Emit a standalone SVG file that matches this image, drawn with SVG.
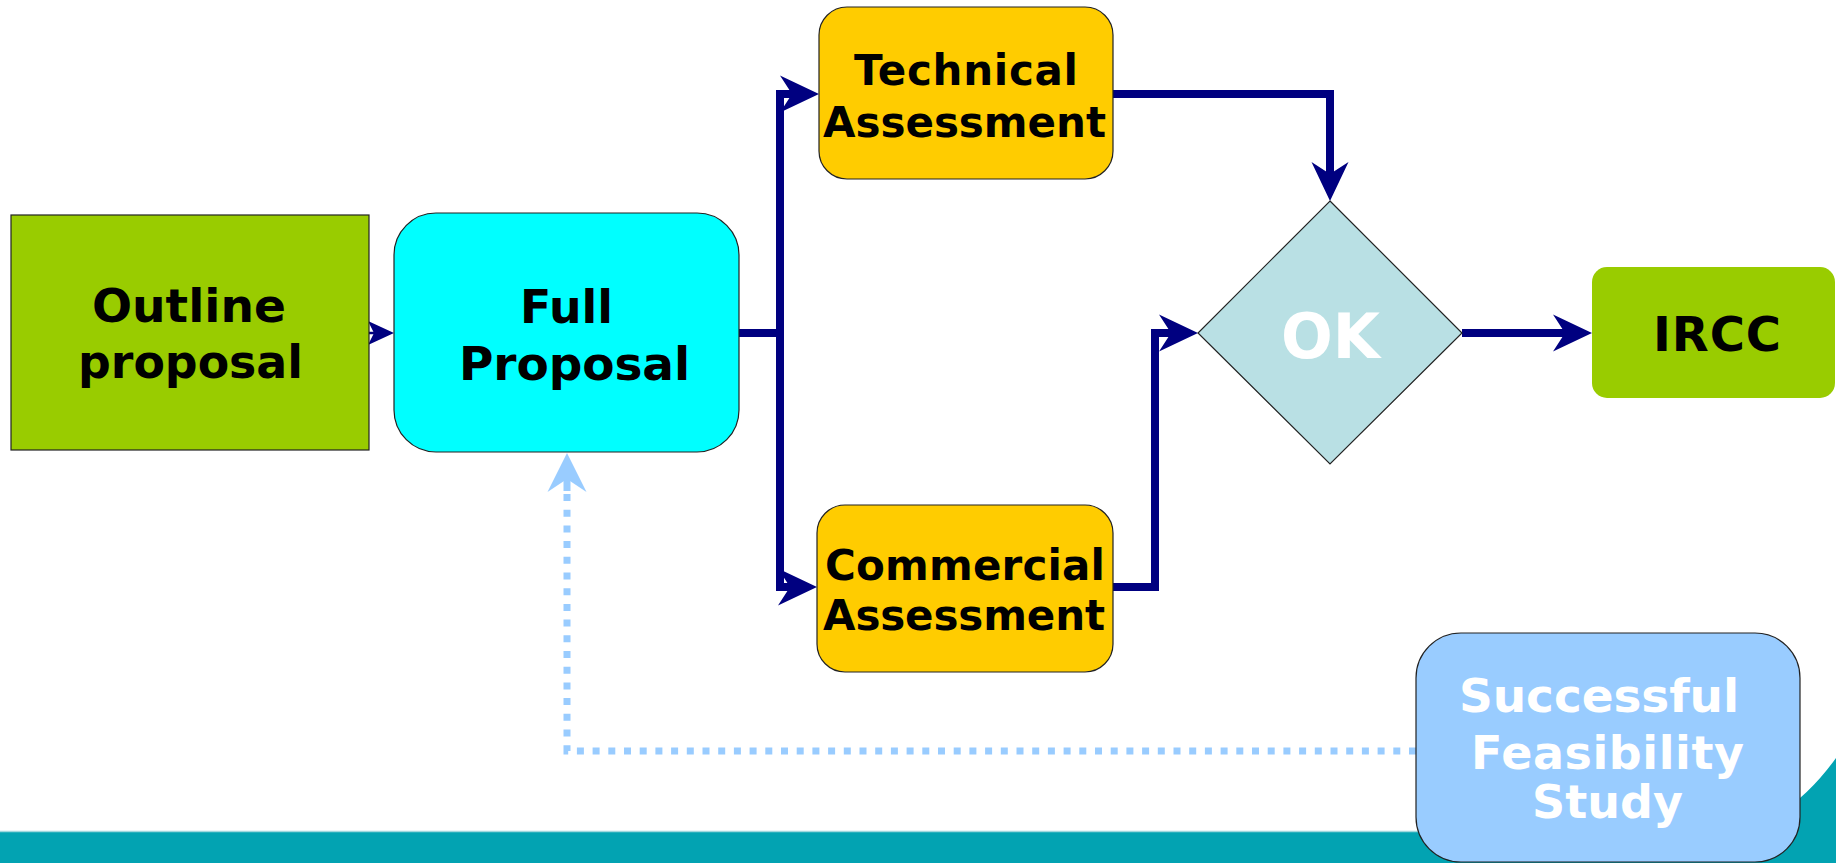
<svg xmlns="http://www.w3.org/2000/svg" width="1836" height="863" viewBox="0 0 1836 863">
<style>
.lbl{font-family:"DejaVu Sans","Liberation Sans",Verdana,sans-serif;font-weight:bold;fill:#000;}
.wht{fill:#fff;}
.conn{fill:none;stroke:#000080;stroke-width:8;stroke-linejoin:miter;stroke-linecap:butt;}
.node{stroke:#222;stroke-width:1.2;}
</style>
<defs>
<marker id="ah" markerUnits="userSpaceOnUse" markerWidth="60" markerHeight="60" viewBox="-40 -30 60 60" refX="0" refY="0" orient="auto" overflow="visible">
<path d="M12,0 L-27,-18.5 L-15,0 L-27,18.5 Z" fill="#000080"/>
</marker>
<marker id="ahs" markerUnits="userSpaceOnUse" markerWidth="40" markerHeight="40" viewBox="-30 -20 40 40" refX="0" refY="0" orient="auto" overflow="visible">
<path d="M10,0 L-16,-12 L-10,0 L-16,12 Z" fill="#000080"/>
</marker>
<marker id="ahl" markerUnits="userSpaceOnUse" markerWidth="60" markerHeight="60" viewBox="-40 -30 60 60" refX="0" refY="0" orient="auto" overflow="visible">
<path d="M12,0 L-27,-19.5 L-14,0 L-27,19.5 Z" fill="#99ccff"/>
</marker>
</defs>
<rect width="1836" height="863" fill="#fff"/>
<g id="background">
<rect x="0" y="832" width="1836" height="31" fill="#02a3b2"/>
<line x1="0" y1="831.5" x2="1836" y2="831.5" stroke="#9fd8de" stroke-width="1.5"/>
<path d="M1740,832 Q1795,815 1836,758 L1836,863 L1740,863 Z" fill="#02a3b2"/>
</g>
<g id="connectors">
<path class="conn" d="M739,333 H780 V94 H807" marker-end="url(#ah)"/>
<path class="conn" d="M739,333 H780 V587 H805" marker-end="url(#ah)"/>
<path class="conn" d="M1113,94 H1330 V189" marker-end="url(#ah)"/>
<path class="conn" d="M1113,587 H1155 V333 H1186" marker-end="url(#ah)"/>
<path class="conn" d="M1462,333 H1580" marker-end="url(#ah)"/>
<path d="M369,333 H384" fill="none" stroke="#000080" stroke-width="2.5" marker-end="url(#ahs)"/>
<path d="M1416,751 H567 V490" fill="none" stroke="#99ccff" stroke-width="7" stroke-dasharray="7 8.7"/>
<path d="M567,491 V465" fill="none" stroke="#99ccff" stroke-width="7" marker-end="url(#ahl)"/>
</g>
<g id="outline-proposal">
<rect class="node" x="11" y="215" width="358" height="235" fill="#99cc00"/>
<text class="lbl" x="92" y="322" font-size="47" textLength="194" lengthAdjust="spacingAndGlyphs">Outline</text>
<text class="lbl" x="78" y="378" font-size="47" textLength="225" lengthAdjust="spacingAndGlyphs">proposal</text>
</g>
<g id="full-proposal">
<rect class="node" x="394" y="213" width="345" height="239" rx="42" fill="#00ffff"/>
<text class="lbl" x="520" y="323" font-size="47" textLength="93" lengthAdjust="spacingAndGlyphs">Full</text>
<text class="lbl" x="459" y="380" font-size="47" textLength="231" lengthAdjust="spacing">Proposal</text>
</g>
<g id="technical-assessment">
<rect class="node" x="819" y="7" width="294" height="172" rx="28" fill="#ffcc00"/>
<text class="lbl" x="854" y="85" font-size="42" textLength="224" lengthAdjust="spacing">Technical</text>
<text class="lbl" x="823" y="137" font-size="42" textLength="283" lengthAdjust="spacing">Assessment</text>
</g>
<g id="commercial-assessment">
<rect class="node" x="817" y="505" width="296" height="167" rx="28" fill="#ffcc00"/>
<text class="lbl" x="825" y="580" font-size="42" textLength="280" lengthAdjust="spacing">Commercial</text>
<text class="lbl" x="823" y="630" font-size="42" textLength="282" lengthAdjust="spacing">Assessment</text>
</g>
<g id="ok-decision">
<polygon class="node" points="1330,201 1462,333 1330,464 1198,333" fill="#b9e0e4"/>
<text class="lbl wht" x="1281" y="358" font-size="62" textLength="99" lengthAdjust="spacingAndGlyphs">OK</text>
</g>
<g id="ircc">
<rect x="1592" y="267" width="243" height="131" rx="15" fill="#99cc00"/>
<text class="lbl" x="1653" y="351" font-size="48" textLength="128" lengthAdjust="spacing">IRCC</text>
</g>
<g id="feasibility-study">
<rect class="node" x="1416" y="633" width="384" height="229" rx="45" fill="#99ccff"/>
<text class="lbl wht" x="1459" y="712" font-size="47" textLength="280" lengthAdjust="spacing">Successful</text>
<text class="lbl wht" x="1471" y="769" font-size="46" textLength="273" lengthAdjust="spacing">Feasibility</text>
<text class="lbl wht" x="1532" y="818" font-size="46" textLength="151" lengthAdjust="spacing">Study</text>
</g>
</svg>
